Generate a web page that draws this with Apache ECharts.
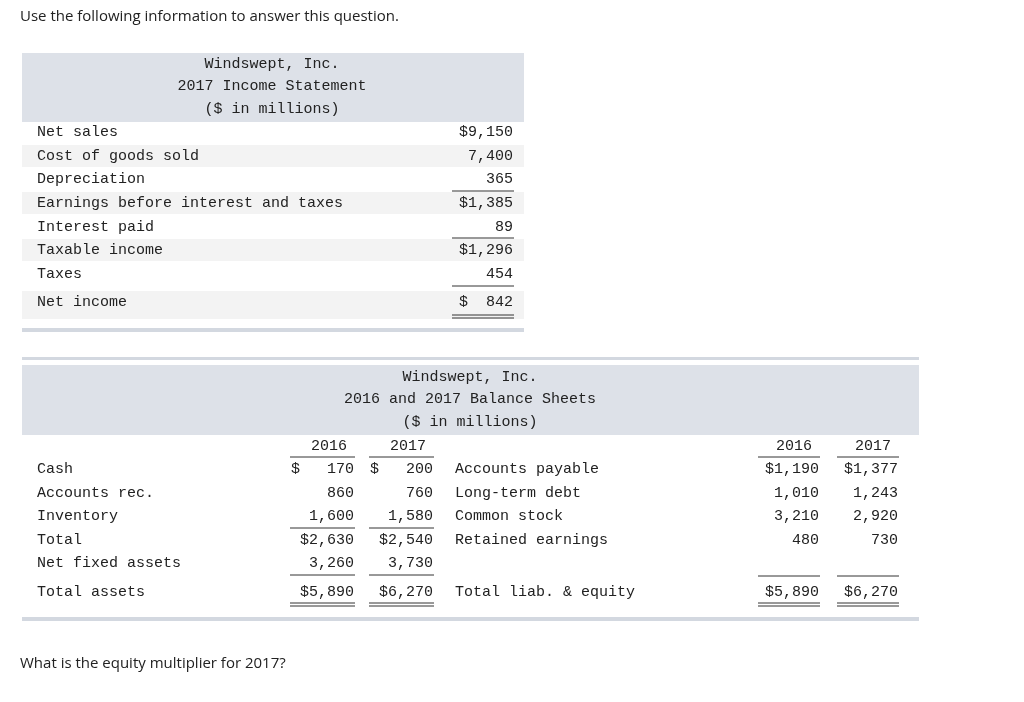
<!DOCTYPE html>
<html>
<head>
<meta charset="utf-8" />
<title>Windswept, Inc.</title>
<script src="https://cdn.jsdelivr.net/npm/echarts@6/dist/echarts.min.js"></script>
<style>
  html, body { margin: 0; padding: 0; background: #fff; }
  #main { width: 1024px; height: 702px; }
</style>
</head>
<body>
<div id="main"></div>
<script>
// 数据区
var incomeTitle = ['Windswept, Inc.', '2017 Income Statement', '($ in millions)'];
var incomeLabels = ['Net sales', 'Cost of goods sold', 'Depreciation', 'Earnings before interest and taxes',
    'Interest paid', 'Taxable income', 'Taxes', 'Net income'];
var incomeValues = ['$9,150', '7,400', '365', '$1,385', '89', '$1,296', '454', '$  842'];

var balanceTitle = ['Windswept, Inc.', '2016 and 2017 Balance Sheets', '($ in millions)'];
var years = ['2016', '2017'];
var assetLabels = ['Cash', 'Accounts rec.', 'Inventory', 'Total', 'Net fixed assets', 'Total assets'];
var assets2016 = ['$   170', '860', '1,600', '$2,630', '3,260', '$5,890'];
var assets2017 = ['$   200', '760', '1,580', '$2,540', '3,730', '$6,270'];
var liabLabels = ['Accounts payable', 'Long-term debt', 'Common stock', 'Retained earnings', '', 'Total liab. & equity'];
var liab2016 = ['$1,190', '1,010', '3,210', '480', '', '$5,890'];
var liab2017 = ['$1,377', '1,243', '2,920', '730', '', '$6,270'];

var mono = '"Liberation Mono", "DejaVu Sans Mono", monospace';
var sans = '"Open Sans", "Noto Sans", sans-serif';
var g = [];

function txt(x, y, s, align, font) {
    g.push({ type: 'text', x: x, y: y, style: {
        text: s, fill: '#222', font: font || ('15px ' + mono),
        textAlign: align || 'left', textVerticalAlign: 'middle' } });
}
function rect(x, y, w, h, c) {
    g.push({ type: 'rect', shape: { x: x, y: y, width: w, height: h }, style: { fill: c } });
}
function line(x1, x2, y) {
    g.push({ type: 'line', shape: { x1: x1, y1: y, x2: x2, y2: y }, style: { stroke: '#333', lineWidth: 1 } });
}

txt(20, 17, 'Use the following information to answer this question.', 'left', '15px ' + sans);

// 损益表
rect(22, 53, 502, 69, '#dde1e8');
incomeTitle.forEach(function (t, i) { txt(272, 64 + i * 22.5, t, 'center'); });
var incY = [132, 156, 179, 203, 227, 250, 274, 302];
incomeLabels.forEach(function (l, i) {
    if (i % 2 === 1) rect(22, incY[i] - 11, 502, 22 + (i === 7 ? 6 : 0), '#f3f3f3');
});
incomeLabels.forEach(function (l, i) {
    txt(37, incY[i], l);
    txt(513, incY[i], incomeValues[i], 'right');
});
line(452, 514, 191); line(452, 514, 238); line(452, 514, 286);
line(452, 514, 315); line(452, 514, 318);
rect(22, 328, 502, 4, '#d3d8e0');

// 资产负债表
rect(22, 357, 897, 3, '#d3d8e0');
rect(22, 365, 897, 70, '#dde1e8');
balanceTitle.forEach(function (t, i) { txt(470, 377 + i * 22.5, t, 'center'); });
var colL = [354, 433], colR = [819, 898];
years.forEach(function (y, i) {
    txt(colL[i] - 25, 446, y, 'center');
    txt(colR[i] - 25, 446, y, 'center');
    line(colL[i] - 64, colL[i] + 1, 457);
    line(colR[i] - 61, colR[i] + 1, 457);
});
var balY = [469, 493, 516, 540, 563, 592];
assetLabels.forEach(function (l, i) {
    txt(37, balY[i], l);
    txt(colL[0], balY[i], assets2016[i], 'right');
    txt(colL[1], balY[i], assets2017[i], 'right');
    if (liabLabels[i]) txt(455, balY[i], liabLabels[i]);
    if (liab2016[i]) txt(colR[0], balY[i], liab2016[i], 'right');
    if (liab2017[i]) txt(colR[1], balY[i], liab2017[i], 'right');
});
[0, 1].forEach(function (i) {
    line(colL[i] - 64, colL[i] + 1, 528);
    line(colL[i] - 64, colL[i] + 1, 575);
    line(colL[i] - 64, colL[i] + 1, 603);
    line(colL[i] - 64, colL[i] + 1, 606);
    line(colR[i] - 61, colR[i] + 1, 576);
    line(colR[i] - 61, colR[i] + 1, 603);
    line(colR[i] - 61, colR[i] + 1, 606);
});
rect(22, 617, 897, 4, '#d3d8e0');

txt(20, 664, 'What is the equity multiplier for 2017?', 'left', '15px ' + sans);

var chart = echarts.init(document.getElementById('main'));
chart.setOption({ graphic: g });
</script>
</body>
</html>
